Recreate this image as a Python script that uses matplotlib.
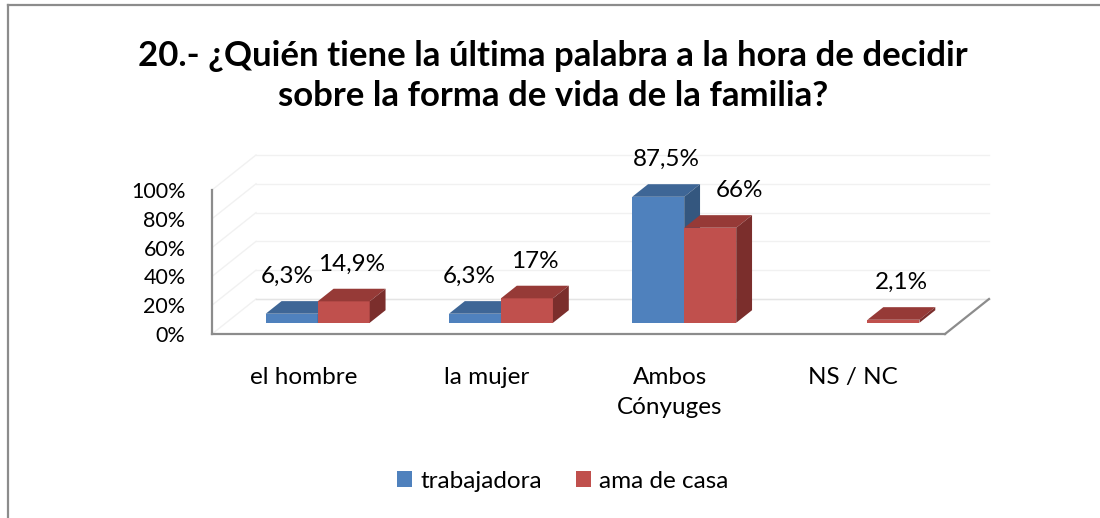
import numpy as np
import matplotlib.pyplot as plt
from matplotlib.patches import Polygon, Rectangle, Patch
from matplotlib.lines import Line2D

# data
categories = ["el hombre", "la mujer", "Ambos\nCónyuges", "NS / NC"]
series_names = ["trabajadora", "ama de casa"]
trabajadora = [6.3, 6.3, 87.5, np.nan]
ama_de_casa = [14.9, 17.0, 66.0, 2.1]
value_labels = [["6,3%", "6,3%", "87,5%", ""],
                ["14,9%", "17%", "66%", "2,1%"]]

plt.rcParams['font.family'] = ['Lato', 'DejaVu Sans']

W, H = 1100, 518
fig = plt.figure(figsize=(W / 100, H / 100), dpi=100)

# outer chart border (top + left visible)
fig.add_artist(Line2D([8 / W, 8 / W], [0, 1 - 5 / H], color="#8c8c8c", lw=1.6))
fig.add_artist(Line2D([8 / W, 1], [1 - 5 / H, 1 - 5 / H], color="#8c8c8c", lw=1.6))

# front plane of the 3d plot area
x0p, x1p, y0p, y1p = 212, 945, 334, 190
ax = fig.add_axes([x0p / W, 1 - y0p / H, (x1p - x0p) / W, (y0p - y1p) / H])
ax.set_xlim(0, 4)
ax.set_ylim(0, 100)
ax.patch.set_visible(False)

DX = 44 / ((x1p - x0p) / 4)   # depth offset in category units
DY = 35 / ((y0p - y1p) / 100)  # depth offset in percent units

grid_c = "#f1f1f1"
edge_c = "#8c8c8c"

# floor
ax.add_patch(Polygon([(0, 0), (4, 0), (4 + DX, DY), (DX, DY)], closed=True,
                     facecolor="white", edgecolor="none", clip_on=False, zorder=1))
# back wall + left wall gridlines
for v in range(0, 101, 20):
    ax.plot([DX, 4 + DX], [DY + v, DY + v], color=grid_c, lw=1, clip_on=False, zorder=1)
    ax.plot([0, DX], [v, DY + v], color=grid_c, lw=1, clip_on=False, zorder=1)
ax.plot([DX, 4 + DX], [DY, DY], color="#e4e4e4", lw=1, clip_on=False, zorder=1.2)
ax.plot([4, 4 + DX], [0, DY], color=edge_c, lw=1.6, clip_on=False, zorder=1.5)

for s in ["top", "right"]:
    ax.spines[s].set_visible(False)
for s in ["left", "bottom"]:
    ax.spines[s].set_color(edge_c)
    ax.spines[s].set_linewidth(1.6)

ax.set_yticks(range(0, 101, 20))
ax.set_yticklabels([f"{v}%" for v in range(0, 101, 20)])
ax.set_xticks(np.arange(len(categories)) + 0.5)
ax.set_xticklabels(categories, linespacing=1.5)
ax.tick_params(axis="y", length=0, pad=19, labelsize=15.5)
ax.tick_params(axis="x", length=0, pad=24, labelsize=17.5)

# 3d-looking bars
bw = 52 / ((x1p - x0p) / 4)
d0, d1 = 0.32, 0.68
face_cols = [("#4f81bd", "#3e6696", "#34577f"), ("#c0504d", "#963a37", "#7b2e2c")]
nudge = {(0, 0): -9, (1, 0): -10, (2, 1): 15}

for i in range(len(categories)):
    for s, vals in enumerate([trabajadora, ama_de_casa]):
        v = vals[i]
        if np.isnan(v):
            continue
        front, top, side = face_cols[s]
        xl = i + 0.5 - bw + s * bw + d0 * DX
        yb = d0 * DY
        ddx, ddy = (d1 - d0) * DX, (d1 - d0) * DY
        ax.add_patch(Rectangle((xl, yb), bw, v, facecolor=front, edgecolor="none",
                               clip_on=False, zorder=3))
        ax.add_patch(Polygon([(xl, yb + v), (xl + bw, yb + v), (xl + bw + ddx, yb + v + ddy),
                              (xl + ddx, yb + v + ddy)], closed=True, facecolor=top,
                             edgecolor="none", clip_on=False, zorder=3))
        ax.add_patch(Polygon([(xl + bw, yb), (xl + bw, yb + v), (xl + bw + ddx, yb + v + ddy),
                              (xl + bw + ddx, yb + ddy)], closed=True, facecolor=side,
                             edgecolor="none", clip_on=False, zorder=3))
        ax.annotate(value_labels[s][i], (xl + bw / 2, yb + v),
                    xytext=(6 + nudge.get((i, s), 0), 37 * 0.72), textcoords="offset points",
                    ha="center", va="center", fontsize=17.5, zorder=4)

fig.suptitle("20.- ¿Quién tiene la última palabra a la hora de decidir\n"
             "sobre la forma de vida de la familia?",
             x=553 / W, y=1 - 76 / H, va="center", fontsize=25, fontweight="bold",
             linespacing=1.3)

handles = [Patch(facecolor=face_cols[k][0]) for k in range(2)]
fig.legend(handles, series_names, loc="center", bbox_to_anchor=(563 / W, 1 - 481 / H),
           ncol=2, frameon=False, fontsize=17.5, handlelength=0.6, handleheight=0.6,
           handletextpad=0.35, columnspacing=1.4)

fig.savefig("out.png", dpi=100)
